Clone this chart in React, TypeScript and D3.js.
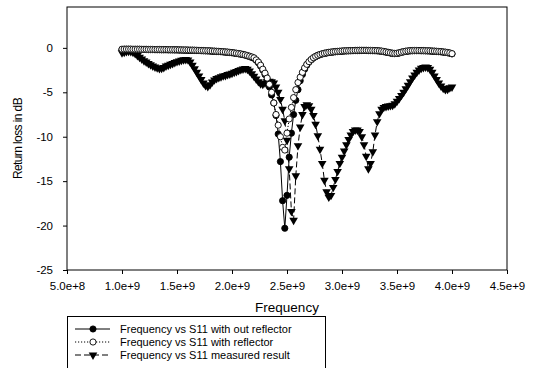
import * as d3 from "d3";
import { useEffect, useRef } from "react";

const WIDTH = 548;
const HEIGHT = 368;

// sweep: 1.0 GHz to 4.0 GHz, 20 MHz step
const FREQ_START = 1.0e9;
const FREQ_STEP = 2.0e7;

const xTicks = [5e8, 1e9, 1.5e9, 2e9, 2.5e9, 3e9, 3.5e9, 4e9, 4.5e9];
const yTicks = [-25, -20, -15, -10, -5, 0];

// S11 without reflector (dB)
const withoutReflector = [
    -0.18, -0.17, -0.17, -0.17, -0.17, -0.18, -0.18, -0.18, -0.18, -0.19,
    -0.19, -0.19, -0.2, -0.2, -0.2, -0.21, -0.21, -0.21, -0.22, -0.22,
    -0.22, -0.23, -0.23, -0.23, -0.24, -0.24, -0.25, -0.25, -0.26, -0.26,
    -0.27, -0.28, -0.28, -0.29, -0.3, -0.31, -0.32, -0.33, -0.34, -0.35,
    -0.36, -0.38, -0.39, -0.41, -0.42, -0.44, -0.46, -0.48, -0.5, -0.53,
    -0.56, -0.59, -0.63, -0.67, -0.71, -0.76, -0.82, -0.9, -0.98, -1.07,
    -1.18, -1.4, -1.68, -2.05, -2.5, -3.0, -3.6, -4.4, -5.3, -6.2,
    -7.6, -9.7, -12.8, -17.2, -20.3, -16.6, -12.3, -9.6, -7.5, -5.9,
    -4.7, -3.7, -3.0, -2.4, -1.95, -1.6, -1.35, -1.15, -0.99, -0.86,
    -0.77, -0.69, -0.63, -0.58, -0.53, -0.5, -0.47, -0.44, -0.42, -0.4,
    -0.38, -0.36, -0.35, -0.34, -0.33, -0.32, -0.31, -0.31, -0.3, -0.3,
    -0.3, -0.3, -0.31, -0.31, -0.32, -0.33, -0.34, -0.36, -0.39, -0.43,
    -0.48, -0.53, -0.58, -0.63, -0.65, -0.63, -0.58, -0.51, -0.45, -0.4,
    -0.37, -0.34, -0.33, -0.32, -0.32, -0.32, -0.33, -0.33, -0.34, -0.35,
    -0.36, -0.38, -0.39, -0.41, -0.43, -0.45, -0.48, -0.51, -0.55, -0.6,
    -0.68,
];

// S11 with reflector (dB)
const withReflector = [
    -0.15, -0.14, -0.14, -0.14, -0.14, -0.15, -0.15, -0.15, -0.15, -0.16,
    -0.16, -0.16, -0.17, -0.17, -0.17, -0.18, -0.18, -0.18, -0.19, -0.19,
    -0.19, -0.2, -0.2, -0.2, -0.21, -0.21, -0.22, -0.22, -0.23, -0.23,
    -0.24, -0.25, -0.25, -0.26, -0.27, -0.28, -0.29, -0.3, -0.31, -0.32,
    -0.33, -0.35, -0.36, -0.38, -0.39, -0.41, -0.43, -0.45, -0.47, -0.5,
    -0.53, -0.56, -0.6, -0.64, -0.68, -0.73, -0.79, -0.86, -0.94, -1.02,
    -1.12, -1.35, -1.6, -1.95, -2.4, -2.85, -3.4, -4.1, -5.0, -6.2,
    -7.5, -8.7, -10.0, -11.2, -11.5, -9.6, -8.0, -6.7, -5.6, -4.7,
    -3.9, -3.3, -2.75, -2.25, -1.85, -1.55, -1.3, -1.1, -0.95, -0.83,
    -0.74, -0.66, -0.6, -0.55, -0.5, -0.47, -0.44, -0.41, -0.39, -0.37,
    -0.35, -0.33, -0.32, -0.31, -0.3, -0.29, -0.28, -0.28, -0.27, -0.27,
    -0.27, -0.27, -0.28, -0.28, -0.29, -0.3, -0.31, -0.33, -0.36, -0.4,
    -0.45, -0.5, -0.55, -0.6, -0.62, -0.6, -0.55, -0.48, -0.42, -0.37,
    -0.34, -0.31, -0.3, -0.29, -0.29, -0.29, -0.3, -0.3, -0.31, -0.32,
    -0.33, -0.35, -0.36, -0.38, -0.4, -0.42, -0.45, -0.48, -0.52, -0.57,
    -0.65,
];

// measured S11 (dB)
const measured = [
    -0.55, -0.5, -0.42, -0.38, -0.4, -0.5, -0.65, -0.85, -1.05, -1.25,
    -1.45, -1.6, -1.75, -1.9, -2.05, -2.15, -2.25, -2.32, -2.3, -2.2,
    -2.05, -1.95, -1.85, -1.75, -1.65, -1.55, -1.48, -1.4, -1.33, -1.3,
    -1.35, -1.6, -1.95, -2.35, -2.75, -3.15, -3.55, -3.95, -4.25, -4.35,
    -4.15, -3.85, -3.6, -3.45, -3.35, -3.25, -3.15, -3.1, -3.0, -2.95,
    -2.85, -2.75, -2.65, -2.55, -2.45, -2.38, -2.32, -2.4, -2.6, -2.9,
    -3.2, -3.5, -3.8, -4.05, -4.1, -3.95, -3.8, -3.75, -3.8, -3.95,
    -4.4, -5.0, -5.8, -6.9, -8.2, -10.4, -13.6, -18.4, -19.4, -14.4,
    -11.0, -8.9, -7.5, -6.6, -6.4, -6.5, -6.9, -7.6, -8.6, -9.9,
    -11.4, -13.0, -14.9, -16.2, -16.8, -16.6, -15.7, -14.8, -13.9, -13.0,
    -12.3, -11.6, -10.9, -10.3, -9.8, -9.4, -9.25, -9.25, -9.4, -10.0,
    -10.9, -12.2, -13.6, -13.0, -11.7, -9.8, -8.3, -7.4, -6.9, -6.7,
    -6.6, -6.55, -6.5, -6.45, -6.3, -6.0, -5.7, -5.35, -5.0, -4.6,
    -4.2, -3.8, -3.4, -3.05, -2.75, -2.5, -2.3, -2.2, -2.15, -2.2,
    -2.4, -2.75, -3.15, -3.55, -3.95, -4.3, -4.55, -4.7, -4.65, -4.5,
    -4.4,
];

const legendLabels = [
    "Frequency vs S11 with out reflector",
    "Frequency vs S11 with reflector",
    "Frequency vs S11 measured result",
];

const FONT = "'Liberation Sans', Arial, sans-serif";

type Marker = "filled" | "open" | "triangle";

export default function App() {
    const svgRef = useRef<SVGSVGElement | null>(null);

    useEffect(() => {
        if (!svgRef.current) return;
        const svg = d3.select(svgRef.current);
        svg.selectAll("*").remove();

        const plot = { left: 67, right: 507, top: 7, bottom: 270 };

        const x = d3.scaleLinear().domain([5e8, 4.5e9]).range([plot.left, plot.right]);
        const y = d3.scaleLinear().domain([-25, 4.6]).range([plot.bottom, plot.top]);

        svg.append("rect").attr("width", WIDTH).attr("height", HEIGHT).attr("fill", "#fff");

        // axes
        const fmtX = (d: d3.NumberValue) => Number(d).toExponential(1).replace("e+", "e+");
        svg.append("g")
            .attr("transform", `translate(0,${plot.bottom})`)
            .call(d3.axisBottom(x).tickValues(xTicks).tickFormat(fmtX).tickSizeInner(4).tickSizeOuter(0).tickPadding(8))
            .call((g) => g.select(".domain").remove())
            .call((g) => g.selectAll("line").attr("stroke", "#000"))
            .call((g) => g.selectAll("text").attr("font-family", FONT).attr("font-size", 11.5).attr("fill", "#000"));

        svg.append("g")
            .attr("transform", `translate(${plot.left},0)`)
            .call(d3.axisLeft(y).tickValues(yTicks).tickFormat((d) => String(d)).tickSizeInner(4).tickSizeOuter(0).tickPadding(10))
            .call((g) => g.select(".domain").remove())
            .call((g) => g.selectAll("line").attr("stroke", "#000"))
            .call((g) => g.selectAll("text").attr("font-family", FONT).attr("font-size", 11.5).attr("fill", "#000"));

        svg.append("rect")
            .attr("x", plot.left)
            .attr("y", plot.top)
            .attr("width", plot.right - plot.left)
            .attr("height", plot.bottom - plot.top)
            .attr("fill", "none")
            .attr("stroke", "#000")
            .attr("stroke-width", 1);

        svg.append("text")
            .attr("x", (plot.left + plot.right) / 2)
            .attr("y", 312)
            .attr("text-anchor", "middle")
            .attr("font-family", FONT)
            .attr("font-size", 13.5)
            .text("Frequency");

        svg.append("text")
            .attr("transform", `translate(22,${(plot.top + plot.bottom) / 2}) rotate(-90)`)
            .attr("text-anchor", "middle")
            .attr("font-family", FONT)
            .attr("font-size", 12)
            .attr("letter-spacing", -0.6)
            .text("Return loss in dB");

        const series: { values: number[]; marker: Marker; dash: string | null }[] = [
            { values: measured, marker: "triangle", dash: "6,3" },
            { values: withoutReflector, marker: "filled", dash: null },
            { values: withReflector, marker: "open", dash: "1.2,1.8" },
        ];

        const triangle = d3.symbol().type(d3.symbolTriangle).size(32);

        const drawMarker = (sel: d3.Selection<SVGGElement, unknown, null, undefined>, marker: Marker, px: number, py: number) => {
            if (marker === "triangle") {
                sel.append("path")
                    .attr("d", triangle()!)
                    .attr("transform", `translate(${px},${py}) rotate(180)`)
                    .attr("fill", "#000");
            } else {
                sel.append("circle")
                    .attr("cx", px)
                    .attr("cy", py)
                    .attr("r", 3.1)
                    .attr("fill", marker === "filled" ? "#000" : "#fff")
                    .attr("stroke", "#000")
                    .attr("stroke-width", 0.9);
            }
        };

        series.forEach((s) => {
            const pts = s.values.map((v, i) => [FREQ_START + i * FREQ_STEP, v] as [number, number]);
            const line = d3.line<[number, number]>().x((d) => x(d[0])).y((d) => y(d[1]));
            svg.append("path")
                .attr("d", line(pts))
                .attr("fill", "none")
                .attr("stroke", "#000")
                .attr("stroke-width", 1)
                .attr("stroke-dasharray", s.dash);
            const g = svg.append("g");
            pts.forEach((p) => drawMarker(g as any, s.marker, x(p[0]), y(p[1])));
        });

        // legend
        const legend = svg.append("g");
        legend.append("rect")
            .attr("x", 67.5)
            .attr("y", 316.5)
            .attr("width", 258)
            .attr("height", 70)
            .attr("fill", "#fff")
            .attr("stroke", "#000");

        const legendStyles: { marker: Marker; dash: string | null }[] = [
            { marker: "filled", dash: null },
            { marker: "open", dash: "1.2,1.8" },
            { marker: "triangle", dash: "6,3" },
        ];
        legendLabels.forEach((label, i) => {
            const cy = 329 + i * 13;
            const g = legend.append("g");
            g.append("line")
                .attr("x1", 75)
                .attr("x2", 110)
                .attr("y1", cy)
                .attr("y2", cy)
                .attr("stroke", "#000")
                .attr("stroke-dasharray", legendStyles[i].dash);
            drawMarker(g as any, legendStyles[i].marker, 93, cy);
            g.append("text")
                .attr("x", 120)
                .attr("y", cy + 4)
                .attr("font-family", FONT)
                .attr("font-size", 11)
                .text(label);
        });

        return () => {
            svg.selectAll("*").remove();
        };
    }, []);

    return (
        <svg
            ref={svgRef}
            width={WIDTH}
            height={HEIGHT}
            style={{ position: "absolute", left: 0, top: 0, display: "block" }}
        />
    );
}
